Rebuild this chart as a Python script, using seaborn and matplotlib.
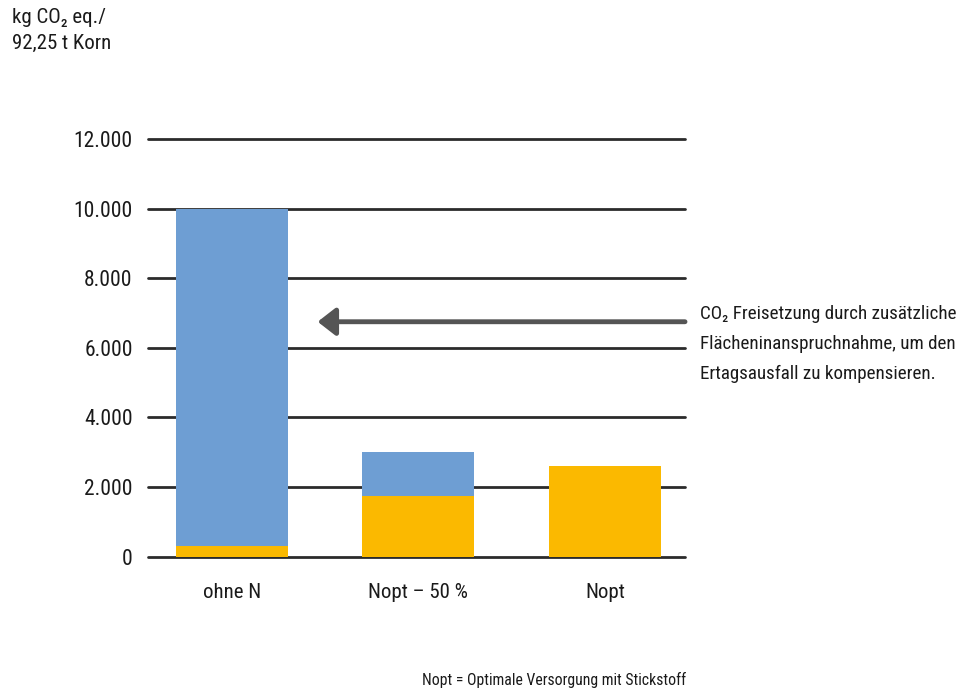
import matplotlib
matplotlib.use("Agg")
import matplotlib.pyplot as plt
import seaborn as sns
import pandas as pd

# Values in kg CO2 eq. per 92.25 t grain
categories = ["ohne N", "Nopt – 50 %", "Nopt"]
direct_emissions = [300, 1750, 2600]          # orange share
land_use_emissions = [9700, 1250, 0]          # blue share (additional land)
yticks = [0, 2000, 4000, 6000, 8000, 10000, 12000]
ytick_labels = ["0", "2.000", "4.000", "6.000", "8.000", "10.000", "12.000"]

BLUE = "#6E9ED3"
ORANGE = "#FBB900"
FONT = ["Roboto Condensed", "Open Sans Condensed", "DejaVu Sans Condensed",
        "Liberation Sans Narrow", "Lato", "DejaVu Sans"]

sns.set_theme(style="white")
plt.rcParams["font.family"] = FONT
plt.rcParams["font.stretch"] = "condensed"

df = pd.DataFrame({
    "Kategorie": categories,
    "direkt": direct_emissions,
    "gesamt": [d + l for d, l in zip(direct_emissions, land_use_emissions)],
})

fig = plt.figure(figsize=(9.71, 6.92), dpi=100)
ax = fig.add_axes([148 / 971, (692 - 556.7) / 692, (685 - 148) / 971, (556.7 - 139) / 692])

# horizontal grid lines behind the bars
for t in yticks:
    ax.axhline(t, color="#2b2b2b", lw=2.0, zorder=0, clip_on=False)

sns.barplot(data=df, x="Kategorie", y="gesamt", color=BLUE, width=0.6,
            saturation=1, linewidth=0, ax=ax, zorder=2)
sns.barplot(data=df, x="Kategorie", y="direkt", color=ORANGE, width=0.6,
            saturation=1, linewidth=0, ax=ax, zorder=3)

ax.set_xlim(-0.45, 2.43)
ax.set_ylim(0, 12000)
ax.set_yticks(yticks)
ax.set_yticklabels(ytick_labels, fontsize=15.5, color="#1a1a1a")
ax.tick_params(axis="y", length=0, pad=11)
ax.tick_params(axis="x", length=0, pad=19, labelsize=15, labelcolor="#1a1a1a")
ax.set_xlabel("")
ax.set_ylabel("")
for s in ax.spines.values():
    s.set_visible(False)

# unit label in the upper left corner
fig.text(12 / 971, 1 - 8 / 692, "kg CO₂ eq./\n92,25 t Korn", ha="left", va="top",
         fontsize=15, color="#1a1a1a", linespacing=1.45)

# arrow pointing at the blue share
ax.annotate("", xy=(0.46, 6750), xytext=(2.43, 6750),
            arrowprops=dict(arrowstyle="-|>,head_length=0.9,head_width=0.7",
                            color="#555555", lw=3.5, shrinkA=0, shrinkB=0),
            annotation_clip=False, zorder=4)

fig.text(700 / 971, 1 - 305 / 692,
         "CO₂ Freisetzung durch zusätzliche\nFlächeninanspruchnahme, um den\nErtagsausfall zu kompensieren.",
         ha="left", va="top", fontsize=13.7, color="#1a1a1a", linespacing=1.85)

fig.text(554 / 971, 1 - 680 / 692, "Nopt = Optimale Versorgung mit Stickstoff",
         ha="center", va="center", fontsize=11.3, color="#1a1a1a")

fig.savefig("out.png", dpi=100)
